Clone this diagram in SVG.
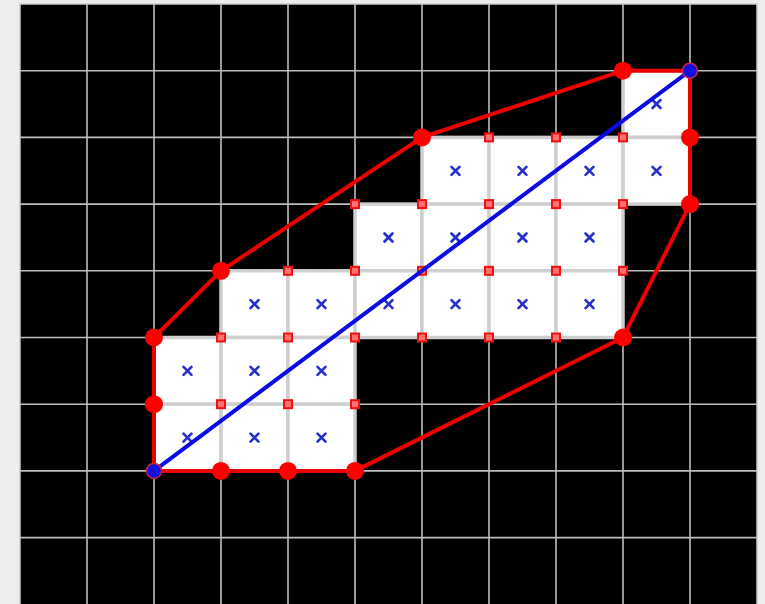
<svg xmlns="http://www.w3.org/2000/svg" xmlns:xlink="http://www.w3.org/1999/xlink" width="765" height="604" viewBox="0 0 765 604">
<style>
.gl{stroke:#bdbdbd;stroke-width:1.6;fill:none}
.cell{fill:#ffffff;stroke:#cfcfcf;stroke-width:3.5}
.sq{fill:#ff7070;stroke:#ee1111;stroke-width:2}
.hull{fill:none;stroke:#ee0000;stroke-width:4;stroke-linejoin:round}
.dot{fill:#ff0000}
.bdot{fill:#1010e0;stroke:#cc2244;stroke-width:1.5}
.xm{stroke:#2430c8;stroke-width:2.6;stroke-linecap:round}
</style>
<defs>
<g id="x"><line class="xm" x1="-4" y1="-4" x2="4" y2="4"/><line class="xm" x1="4" y1="-4" x2="-4" y2="4"/></g>
<rect id="s" class="sq" x="-4" y="-4" width="8" height="8"/>
</defs>
<rect x="0" y="0" width="765" height="604" fill="#eeeeee"/>
<rect x="20" y="4" width="737" height="602" fill="#000000" stroke="#cccccc" stroke-width="1.5"/>
<g id="grid">
<path class="gl" d="M87 4V604M154 4V604M221 4V604M288 4V604M355 4V604M422 4V604M489 4V604M556 4V604M623 4V604M690 4V604M20 70.7H757M20 137.4H757M20 204.1H757M20 270.8H757M20 337.5H757M20 404.2H757M20 470.9H757M20 537.6H757"/>
</g>
<g id="cells">
<rect class="cell" x="623" y="70.7" width="67" height="66.7"/>
<rect class="cell" x="422" y="137.4" width="67" height="66.7"/>
<rect class="cell" x="489" y="137.4" width="67" height="66.7"/>
<rect class="cell" x="556" y="137.4" width="67" height="66.7"/>
<rect class="cell" x="623" y="137.4" width="67" height="66.7"/>
<rect class="cell" x="355" y="204.1" width="67" height="66.7"/>
<rect class="cell" x="422" y="204.1" width="67" height="66.7"/>
<rect class="cell" x="489" y="204.1" width="67" height="66.7"/>
<rect class="cell" x="556" y="204.1" width="67" height="66.7"/>
<rect class="cell" x="221" y="270.8" width="67" height="66.7"/>
<rect class="cell" x="288" y="270.8" width="67" height="66.7"/>
<rect class="cell" x="355" y="270.8" width="67" height="66.7"/>
<rect class="cell" x="422" y="270.8" width="67" height="66.7"/>
<rect class="cell" x="489" y="270.8" width="67" height="66.7"/>
<rect class="cell" x="556" y="270.8" width="67" height="66.7"/>
<rect class="cell" x="154" y="337.5" width="67" height="66.7"/>
<rect class="cell" x="221" y="337.5" width="67" height="66.7"/>
<rect class="cell" x="288" y="337.5" width="67" height="66.7"/>
<rect class="cell" x="154" y="404.2" width="67" height="66.7"/>
<rect class="cell" x="221" y="404.2" width="67" height="66.7"/>
<rect class="cell" x="288" y="404.2" width="67" height="66.7"/>
</g>
<g id="marks">
<use xlink:href="#x" x="656.5" y="104"/>
<use xlink:href="#x" x="455.5" y="170.8"/><use xlink:href="#x" x="522.5" y="170.8"/><use xlink:href="#x" x="589.5" y="170.8"/><use xlink:href="#x" x="656.5" y="170.8"/>
<use xlink:href="#x" x="388.5" y="237.5"/><use xlink:href="#x" x="455.5" y="237.5"/><use xlink:href="#x" x="522.5" y="237.5"/><use xlink:href="#x" x="589.5" y="237.5"/>
<use xlink:href="#x" x="254.5" y="304.2"/><use xlink:href="#x" x="321.5" y="304.2"/><use xlink:href="#x" x="388.5" y="304.2"/><use xlink:href="#x" x="455.5" y="304.2"/><use xlink:href="#x" x="522.5" y="304.2"/><use xlink:href="#x" x="589.5" y="304.2"/>
<use xlink:href="#x" x="187.5" y="370.9"/><use xlink:href="#x" x="254.5" y="370.9"/><use xlink:href="#x" x="321.5" y="370.9"/>
<use xlink:href="#x" x="187.5" y="437.6"/><use xlink:href="#x" x="254.5" y="437.6"/><use xlink:href="#x" x="321.5" y="437.6"/>
</g>
<g id="squares">
<use xlink:href="#s" x="489" y="137.4"/><use xlink:href="#s" x="556" y="137.4"/><use xlink:href="#s" x="623" y="137.4"/>
<use xlink:href="#s" x="355" y="204.1"/><use xlink:href="#s" x="422" y="204.1"/><use xlink:href="#s" x="489" y="204.1"/><use xlink:href="#s" x="556" y="204.1"/><use xlink:href="#s" x="623" y="204.1"/>
<use xlink:href="#s" x="288" y="270.8"/><use xlink:href="#s" x="355" y="270.8"/><use xlink:href="#s" x="422" y="270.8"/><use xlink:href="#s" x="489" y="270.8"/><use xlink:href="#s" x="556" y="270.8"/><use xlink:href="#s" x="623" y="270.8"/>
<use xlink:href="#s" x="221" y="337.5"/><use xlink:href="#s" x="288" y="337.5"/><use xlink:href="#s" x="355" y="337.5"/><use xlink:href="#s" x="422" y="337.5"/><use xlink:href="#s" x="489" y="337.5"/><use xlink:href="#s" x="556" y="337.5"/>
<use xlink:href="#s" x="221" y="404.2"/><use xlink:href="#s" x="288" y="404.2"/><use xlink:href="#s" x="355" y="404.2"/>
</g>
<g id="connectors">
<polygon class="hull" points="154,470.9 154,337.5 221,270.8 422,137.4 623,70.7 690,70.7 690,204.1 623,337.5 355,470.9"/>
<line x1="154" y1="470.9" x2="690" y2="70.7" stroke="#0a0ae6" stroke-width="4"/>
</g>
<g id="dots">
<circle class="dot" cx="154" cy="337.5" r="9"/>
<circle class="dot" cx="154" cy="404.2" r="9"/>
<circle class="dot" cx="221" cy="270.8" r="9"/>
<circle class="dot" cx="422" cy="137.4" r="9"/>
<circle class="dot" cx="623" cy="70.7" r="9"/>
<circle class="dot" cx="690" cy="137.4" r="9"/>
<circle class="dot" cx="690" cy="204.1" r="9"/>
<circle class="dot" cx="623" cy="337.5" r="9"/>
<circle class="dot" cx="355" cy="470.9" r="9"/>
<circle class="dot" cx="288" cy="470.9" r="9"/>
<circle class="dot" cx="221" cy="470.9" r="9"/>
<circle class="bdot" cx="154" cy="470.9" r="7.5"/>
<circle class="bdot" cx="690" cy="70.7" r="7.5"/>
</g>
</svg>
